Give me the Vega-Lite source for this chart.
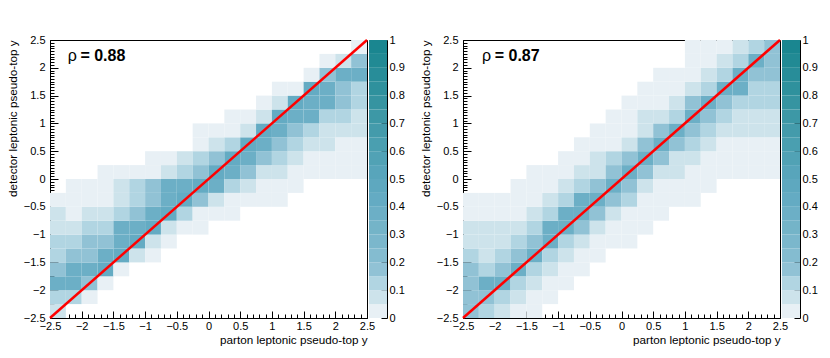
{
"$schema":"https://vega.github.io/schema/vega-lite/v6.json",
"padding":{"left":6,"top":33,"right":0,"bottom":0},
"background":"white",
"config":{"font":"Liberation Sans","view":{"stroke":"#000","strokeWidth":1},
"axis":{"grid":false,"domainColor":"#000","tickColor":"#000","labelColor":"#000","titleColor":"#000","labelFont":"Liberation Sans","titleFont":"Liberation Sans","labelFontSize":11,"titleFontSize":11.7,"titleFontWeight":"normal","labelFlush":false,"zindex":1,"domainWidth":1,"tickWidth":1}},
"datasets":{
"left":[
{"x":-2.5,"x2":-2.25,"y":-2.5,"y2":-2.25,"v":0.07},
{"x":-2.5,"x2":-2.25,"y":-2.25,"y2":-2,"v":0.12},{"x":-2.25,"x2":-2,"y":-2.25,"y2":-2,"v":0.12},{"x":-2,"x2":-1.75,"y":-2.25,"y2":-2,"v":0.03},
{"x":-2.5,"x2":-2.25,"y":-2,"y2":-1.75,"v":0.38},{"x":-2.25,"x2":-2,"y":-2,"y2":-1.75,"v":0.38},{"x":-2,"x2":-1.75,"y":-2,"y2":-1.75,"v":0.18},{"x":-1.75,"x2":-1.5,"y":-2,"y2":-1.75,"v":0.03},
{"x":-2.5,"x2":-2.25,"y":-1.75,"y2":-1.5,"v":0.18},{"x":-2.25,"x2":-2,"y":-1.75,"y2":-1.5,"v":0.38},{"x":-2,"x2":-1.75,"y":-1.75,"y2":-1.5,"v":0.38},{"x":-1.75,"x2":-1.5,"y":-1.75,"y2":-1.5,"v":0.43},{"x":-1.5,"x2":-1.25,"y":-1.75,"y2":-1.5,"v":0.03},
{"x":-2.5,"x2":-2.25,"y":-1.5,"y2":-1.25,"v":0.12},{"x":-2.25,"x2":-2,"y":-1.5,"y2":-1.25,"v":0.18},{"x":-2,"x2":-1.75,"y":-1.5,"y2":-1.25,"v":0.18},{"x":-1.75,"x2":-1.5,"y":-1.5,"y2":-1.25,"v":0.38},{"x":-1.5,"x2":-1.25,"y":-1.5,"y2":-1.25,"v":0.43},{"x":-1.25,"x2":-1,"y":-1.5,"y2":-1.25,"v":0.07},{"x":-1,"x2":-0.75,"y":-1.5,"y2":-1.25,"v":0.03},
{"x":-2.5,"x2":-2.25,"y":-1.25,"y2":-1,"v":0.12},{"x":-2.25,"x2":-2,"y":-1.25,"y2":-1,"v":0.12},{"x":-2,"x2":-1.75,"y":-1.25,"y2":-1,"v":0.18},{"x":-1.75,"x2":-1.5,"y":-1.25,"y2":-1,"v":0.18},{"x":-1.5,"x2":-1.25,"y":-1.25,"y2":-1,"v":0.38},{"x":-1.25,"x2":-1,"y":-1.25,"y2":-1,"v":0.43},{"x":-1,"x2":-0.75,"y":-1.25,"y2":-1,"v":0.07},{"x":-0.75,"x2":-0.5,"y":-1.25,"y2":-1,"v":0.03},
{"x":-2.5,"x2":-2.25,"y":-1,"y2":-0.75,"v":0.07},{"x":-2.25,"x2":-2,"y":-1,"y2":-0.75,"v":0.07},{"x":-2,"x2":-1.75,"y":-1,"y2":-0.75,"v":0.12},{"x":-1.75,"x2":-1.5,"y":-1,"y2":-0.75,"v":0.12},{"x":-1.5,"x2":-1.25,"y":-1,"y2":-0.75,"v":0.38},{"x":-1.25,"x2":-1,"y":-1,"y2":-0.75,"v":0.38},{"x":-1,"x2":-0.75,"y":-1,"y2":-0.75,"v":0.43},{"x":-0.75,"x2":-0.5,"y":-1,"y2":-0.75,"v":0.07},{"x":-0.5,"x2":-0.25,"y":-1,"y2":-0.75,"v":0.03},{"x":-0.25,"x2":0,"y":-1,"y2":-0.75,"v":0.03},
{"x":-2.5,"x2":-2.25,"y":-0.75,"y2":-0.5,"v":0.07},{"x":-2.25,"x2":-2,"y":-0.75,"y2":-0.5,"v":0.03},{"x":-2,"x2":-1.75,"y":-0.75,"y2":-0.5,"v":0.07},{"x":-1.75,"x2":-1.5,"y":-0.75,"y2":-0.5,"v":0.07},{"x":-1.5,"x2":-1.25,"y":-0.75,"y2":-0.5,"v":0.12},{"x":-1.25,"x2":-1,"y":-0.75,"y2":-0.5,"v":0.18},{"x":-1,"x2":-0.75,"y":-0.75,"y2":-0.5,"v":0.38},{"x":-0.75,"x2":-0.5,"y":-0.75,"y2":-0.5,"v":0.43},{"x":-0.5,"x2":-0.25,"y":-0.75,"y2":-0.5,"v":0.12},{"x":-0.25,"x2":0,"y":-0.75,"y2":-0.5,"v":0.03},{"x":0,"x2":0.25,"y":-0.75,"y2":-0.5,"v":0.03},{"x":0.25,"x2":0.5,"y":-0.75,"y2":-0.5,"v":0.03},
{"x":-2.5,"x2":-2.25,"y":-0.5,"y2":-0.25,"v":0.03},{"x":-2.25,"x2":-2,"y":-0.5,"y2":-0.25,"v":0.03},{"x":-2,"x2":-1.75,"y":-0.5,"y2":-0.25,"v":0.03},{"x":-1.75,"x2":-1.5,"y":-0.5,"y2":-0.25,"v":0.03},{"x":-1.5,"x2":-1.25,"y":-0.5,"y2":-0.25,"v":0.07},{"x":-1.25,"x2":-1,"y":-0.5,"y2":-0.25,"v":0.12},{"x":-1,"x2":-0.75,"y":-0.5,"y2":-0.25,"v":0.18},{"x":-0.75,"x2":-0.5,"y":-0.5,"y2":-0.25,"v":0.38},{"x":-0.5,"x2":-0.25,"y":-0.5,"y2":-0.25,"v":0.43},{"x":-0.25,"x2":0,"y":-0.5,"y2":-0.25,"v":0.18},{"x":0,"x2":0.25,"y":-0.5,"y2":-0.25,"v":0.07},{"x":0.25,"x2":0.5,"y":-0.5,"y2":-0.25,"v":0.03},{"x":0.5,"x2":0.75,"y":-0.5,"y2":-0.25,"v":0.03},{"x":0.75,"x2":1,"y":-0.5,"y2":-0.25,"v":0.03},{"x":1,"x2":1.25,"y":-0.5,"y2":-0.25,"v":0.03},
{"x":-2.25,"x2":-2,"y":-0.25,"y2":0,"v":0.03},{"x":-2,"x2":-1.75,"y":-0.25,"y2":0,"v":0.03},{"x":-1.75,"x2":-1.5,"y":-0.25,"y2":0,"v":0.03},{"x":-1.5,"x2":-1.25,"y":-0.25,"y2":0,"v":0.07},{"x":-1.25,"x2":-1,"y":-0.25,"y2":0,"v":0.12},{"x":-1,"x2":-0.75,"y":-0.25,"y2":0,"v":0.18},{"x":-0.75,"x2":-0.5,"y":-0.25,"y2":0,"v":0.38},{"x":-0.5,"x2":-0.25,"y":-0.25,"y2":0,"v":0.38},{"x":-0.25,"x2":0,"y":-0.25,"y2":0,"v":0.43},{"x":0,"x2":0.25,"y":-0.25,"y2":0,"v":0.38},{"x":0.25,"x2":0.5,"y":-0.25,"y2":0,"v":0.12},{"x":0.5,"x2":0.75,"y":-0.25,"y2":0,"v":0.07},{"x":0.75,"x2":1,"y":-0.25,"y2":0,"v":0.03},{"x":1,"x2":1.25,"y":-0.25,"y2":0,"v":0.03},{"x":1.25,"x2":1.5,"y":-0.25,"y2":0,"v":0.03},
{"x":-1.75,"x2":-1.5,"y":0,"y2":0.25,"v":0.03},{"x":-1.5,"x2":-1.25,"y":0,"y2":0.25,"v":0.03},{"x":-1.25,"x2":-1,"y":0,"y2":0.25,"v":0.03},{"x":-1,"x2":-0.75,"y":0,"y2":0.25,"v":0.03},{"x":-0.75,"x2":-0.5,"y":0,"y2":0.25,"v":0.07},{"x":-0.5,"x2":-0.25,"y":0,"y2":0.25,"v":0.12},{"x":-0.25,"x2":0,"y":0,"y2":0.25,"v":0.18},{"x":0,"x2":0.25,"y":0,"y2":0.25,"v":0.43},{"x":0.25,"x2":0.5,"y":0,"y2":0.25,"v":0.38},{"x":0.5,"x2":0.75,"y":0,"y2":0.25,"v":0.18},{"x":0.75,"x2":1,"y":0,"y2":0.25,"v":0.07},{"x":1,"x2":1.25,"y":0,"y2":0.25,"v":0.07},{"x":1.25,"x2":1.5,"y":0,"y2":0.25,"v":0.03},{"x":1.5,"x2":1.75,"y":0,"y2":0.25,"v":0.03},{"x":1.75,"x2":2,"y":0,"y2":0.25,"v":0.03},{"x":2,"x2":2.25,"y":0,"y2":0.25,"v":0.03},{"x":2.25,"x2":2.5,"y":0,"y2":0.25,"v":0.03},
{"x":-1,"x2":-0.75,"y":0.25,"y2":0.5,"v":0.03},{"x":-0.75,"x2":-0.5,"y":0.25,"y2":0.5,"v":0.03},{"x":-0.5,"x2":-0.25,"y":0.25,"y2":0.5,"v":0.07},{"x":-0.25,"x2":0,"y":0.25,"y2":0.5,"v":0.12},{"x":0,"x2":0.25,"y":0.25,"y2":0.5,"v":0.18},{"x":0.25,"x2":0.5,"y":0.25,"y2":0.5,"v":0.43},{"x":0.5,"x2":0.75,"y":0.25,"y2":0.5,"v":0.38},{"x":0.75,"x2":1,"y":0.25,"y2":0.5,"v":0.18},{"x":1,"x2":1.25,"y":0.25,"y2":0.5,"v":0.12},{"x":1.25,"x2":1.5,"y":0.25,"y2":0.5,"v":0.07},{"x":1.5,"x2":1.75,"y":0.25,"y2":0.5,"v":0.03},{"x":1.75,"x2":2,"y":0.25,"y2":0.5,"v":0.03},{"x":2,"x2":2.25,"y":0.25,"y2":0.5,"v":0.03},{"x":2.25,"x2":2.5,"y":0.25,"y2":0.5,"v":0.03},
{"x":-0.25,"x2":0,"y":0.5,"y2":0.75,"v":0.03},{"x":0,"x2":0.25,"y":0.5,"y2":0.75,"v":0.07},{"x":0.25,"x2":0.5,"y":0.5,"y2":0.75,"v":0.12},{"x":0.5,"x2":0.75,"y":0.5,"y2":0.75,"v":0.43},{"x":0.75,"x2":1,"y":0.5,"y2":0.75,"v":0.38},{"x":1,"x2":1.25,"y":0.5,"y2":0.75,"v":0.18},{"x":1.25,"x2":1.5,"y":0.5,"y2":0.75,"v":0.12},{"x":1.5,"x2":1.75,"y":0.5,"y2":0.75,"v":0.07},{"x":1.75,"x2":2,"y":0.5,"y2":0.75,"v":0.07},{"x":2,"x2":2.25,"y":0.5,"y2":0.75,"v":0.03},{"x":2.25,"x2":2.5,"y":0.5,"y2":0.75,"v":0.03},
{"x":-0.25,"x2":0,"y":0.75,"y2":1,"v":0.03},{"x":0,"x2":0.25,"y":0.75,"y2":1,"v":0.03},{"x":0.25,"x2":0.5,"y":0.75,"y2":1,"v":0.03},{"x":0.5,"x2":0.75,"y":0.75,"y2":1,"v":0.07},{"x":0.75,"x2":1,"y":0.75,"y2":1,"v":0.43},{"x":1,"x2":1.25,"y":0.75,"y2":1,"v":0.38},{"x":1.25,"x2":1.5,"y":0.75,"y2":1,"v":0.18},{"x":1.5,"x2":1.75,"y":0.75,"y2":1,"v":0.12},{"x":1.75,"x2":2,"y":0.75,"y2":1,"v":0.07},{"x":2,"x2":2.25,"y":0.75,"y2":1,"v":0.07},{"x":2.25,"x2":2.5,"y":0.75,"y2":1,"v":0.07},
{"x":0.25,"x2":0.5,"y":1,"y2":1.25,"v":0.03},{"x":0.5,"x2":0.75,"y":1,"y2":1.25,"v":0.03},{"x":0.75,"x2":1,"y":1,"y2":1.25,"v":0.07},{"x":1,"x2":1.25,"y":1,"y2":1.25,"v":0.43},{"x":1.25,"x2":1.5,"y":1,"y2":1.25,"v":0.38},{"x":1.5,"x2":1.75,"y":1,"y2":1.25,"v":0.38},{"x":1.75,"x2":2,"y":1,"y2":1.25,"v":0.12},{"x":2,"x2":2.25,"y":1,"y2":1.25,"v":0.12},{"x":2.25,"x2":2.5,"y":1,"y2":1.25,"v":0.07},
{"x":0.75,"x2":1,"y":1.25,"y2":1.5,"v":0.03},{"x":1,"x2":1.25,"y":1.25,"y2":1.5,"v":0.07},{"x":1.25,"x2":1.5,"y":1.25,"y2":1.5,"v":0.43},{"x":1.5,"x2":1.75,"y":1.25,"y2":1.5,"v":0.38},{"x":1.75,"x2":2,"y":1.25,"y2":1.5,"v":0.38},{"x":2,"x2":2.25,"y":1.25,"y2":1.5,"v":0.18},{"x":2.25,"x2":2.5,"y":1.25,"y2":1.5,"v":0.12},
{"x":1,"x2":1.25,"y":1.5,"y2":1.75,"v":0.03},{"x":1.25,"x2":1.5,"y":1.5,"y2":1.75,"v":0.03},{"x":1.5,"x2":1.75,"y":1.5,"y2":1.75,"v":0.43},{"x":1.75,"x2":2,"y":1.5,"y2":1.75,"v":0.38},{"x":2,"x2":2.25,"y":1.5,"y2":1.75,"v":0.18},{"x":2.25,"x2":2.5,"y":1.5,"y2":1.75,"v":0.12},
{"x":1.5,"x2":1.75,"y":1.75,"y2":2,"v":0.03},{"x":1.75,"x2":2,"y":1.75,"y2":2,"v":0.18},{"x":2,"x2":2.25,"y":1.75,"y2":2,"v":0.38},{"x":2.25,"x2":2.5,"y":1.75,"y2":2,"v":0.38},
{"x":1.75,"x2":2,"y":2,"y2":2.25,"v":0.03},{"x":2,"x2":2.25,"y":2,"y2":2.25,"v":0.07},{"x":2.25,"x2":2.5,"y":2,"y2":2.25,"v":0.18},
{"x":2.25,"x2":2.5,"y":2.25,"y2":2.5,"v":0.03}
],
"right":[
{"x":-2.5,"x2":-2.25,"y":-2.5,"y2":-2.25,"v":0.18},{"x":-2.25,"x2":-2,"y":-2.5,"y2":-2.25,"v":0.12},{"x":-2,"x2":-1.75,"y":-2.5,"y2":-2.25,"v":0.07},{"x":-1.75,"x2":-1.5,"y":-2.5,"y2":-2.25,"v":0.03},{"x":-1.5,"x2":-1.25,"y":-2.5,"y2":-2.25,"v":0.03},
{"x":-2.5,"x2":-2.25,"y":-2.25,"y2":-2,"v":0.18},{"x":-2.25,"x2":-2,"y":-2.25,"y2":-2,"v":0.18},{"x":-2,"x2":-1.75,"y":-2.25,"y2":-2,"v":0.12},{"x":-1.75,"x2":-1.5,"y":-2.25,"y2":-2,"v":0.07},{"x":-1.5,"x2":-1.25,"y":-2.25,"y2":-2,"v":0.03},{"x":-1.25,"x2":-1,"y":-2.25,"y2":-2,"v":0.03},
{"x":-2.5,"x2":-2.25,"y":-2,"y2":-1.75,"v":0.18},{"x":-2.25,"x2":-2,"y":-2,"y2":-1.75,"v":0.36},{"x":-2,"x2":-1.75,"y":-2,"y2":-1.75,"v":0.36},{"x":-1.75,"x2":-1.5,"y":-2,"y2":-1.75,"v":0.12},{"x":-1.5,"x2":-1.25,"y":-2,"y2":-1.75,"v":0.07},{"x":-1.25,"x2":-1,"y":-2,"y2":-1.75,"v":0.03},{"x":-1,"x2":-0.75,"y":-2,"y2":-1.75,"v":0.03},
{"x":-2.5,"x2":-2.25,"y":-1.75,"y2":-1.5,"v":0.18},{"x":-2.25,"x2":-2,"y":-1.75,"y2":-1.5,"v":0.12},{"x":-2,"x2":-1.75,"y":-1.75,"y2":-1.5,"v":0.18},{"x":-1.75,"x2":-1.5,"y":-1.75,"y2":-1.5,"v":0.36},{"x":-1.5,"x2":-1.25,"y":-1.75,"y2":-1.5,"v":0.12},{"x":-1.25,"x2":-1,"y":-1.75,"y2":-1.5,"v":0.07},{"x":-1,"x2":-0.75,"y":-1.75,"y2":-1.5,"v":0.03},{"x":-0.75,"x2":-0.5,"y":-1.75,"y2":-1.5,"v":0.03},
{"x":-2.5,"x2":-2.25,"y":-1.5,"y2":-1.25,"v":0.12},{"x":-2.25,"x2":-2,"y":-1.5,"y2":-1.25,"v":0.07},{"x":-2,"x2":-1.75,"y":-1.5,"y2":-1.25,"v":0.12},{"x":-1.75,"x2":-1.5,"y":-1.5,"y2":-1.25,"v":0.18},{"x":-1.5,"x2":-1.25,"y":-1.5,"y2":-1.25,"v":0.36},{"x":-1.25,"x2":-1,"y":-1.5,"y2":-1.25,"v":0.12},{"x":-1,"x2":-0.75,"y":-1.5,"y2":-1.25,"v":0.07},{"x":-0.75,"x2":-0.5,"y":-1.5,"y2":-1.25,"v":0.03},{"x":-0.5,"x2":-0.25,"y":-1.5,"y2":-1.25,"v":0.03},
{"x":-2.5,"x2":-2.25,"y":-1.25,"y2":-1,"v":0.07},{"x":-2.25,"x2":-2,"y":-1.25,"y2":-1,"v":0.07},{"x":-2,"x2":-1.75,"y":-1.25,"y2":-1,"v":0.07},{"x":-1.75,"x2":-1.5,"y":-1.25,"y2":-1,"v":0.12},{"x":-1.5,"x2":-1.25,"y":-1.25,"y2":-1,"v":0.18},{"x":-1.25,"x2":-1,"y":-1.25,"y2":-1,"v":0.36},{"x":-1,"x2":-0.75,"y":-1.25,"y2":-1,"v":0.12},{"x":-0.75,"x2":-0.5,"y":-1.25,"y2":-1,"v":0.07},{"x":-0.5,"x2":-0.25,"y":-1.25,"y2":-1,"v":0.03},{"x":-0.25,"x2":0,"y":-1.25,"y2":-1,"v":0.03},{"x":0,"x2":0.25,"y":-1.25,"y2":-1,"v":0.03},
{"x":-2.5,"x2":-2.25,"y":-1,"y2":-0.75,"v":0.07},{"x":-2.25,"x2":-2,"y":-1,"y2":-0.75,"v":0.07},{"x":-2,"x2":-1.75,"y":-1,"y2":-0.75,"v":0.07},{"x":-1.75,"x2":-1.5,"y":-1,"y2":-0.75,"v":0.07},{"x":-1.5,"x2":-1.25,"y":-1,"y2":-0.75,"v":0.12},{"x":-1.25,"x2":-1,"y":-1,"y2":-0.75,"v":0.36},{"x":-1,"x2":-0.75,"y":-1,"y2":-0.75,"v":0.36},{"x":-0.75,"x2":-0.5,"y":-1,"y2":-0.75,"v":0.18},{"x":-0.5,"x2":-0.25,"y":-1,"y2":-0.75,"v":0.07},{"x":-0.25,"x2":0,"y":-1,"y2":-0.75,"v":0.03},{"x":0,"x2":0.25,"y":-1,"y2":-0.75,"v":0.03},{"x":0.25,"x2":0.5,"y":-1,"y2":-0.75,"v":0.03},
{"x":-2.5,"x2":-2.25,"y":-0.75,"y2":-0.5,"v":0.03},{"x":-2.25,"x2":-2,"y":-0.75,"y2":-0.5,"v":0.03},{"x":-2,"x2":-1.75,"y":-0.75,"y2":-0.5,"v":0.03},{"x":-1.75,"x2":-1.5,"y":-0.75,"y2":-0.5,"v":0.03},{"x":-1.5,"x2":-1.25,"y":-0.75,"y2":-0.5,"v":0.07},{"x":-1.25,"x2":-1,"y":-0.75,"y2":-0.5,"v":0.12},{"x":-1,"x2":-0.75,"y":-0.75,"y2":-0.5,"v":0.36},{"x":-0.75,"x2":-0.5,"y":-0.75,"y2":-0.5,"v":0.36},{"x":-0.5,"x2":-0.25,"y":-0.75,"y2":-0.5,"v":0.18},{"x":-0.25,"x2":0,"y":-0.75,"y2":-0.5,"v":0.07},{"x":0,"x2":0.25,"y":-0.75,"y2":-0.5,"v":0.03},{"x":0.25,"x2":0.5,"y":-0.75,"y2":-0.5,"v":0.03},{"x":0.5,"x2":0.75,"y":-0.75,"y2":-0.5,"v":0.03},
{"x":-2.5,"x2":-2.25,"y":-0.5,"y2":-0.25,"v":0.03},{"x":-2.25,"x2":-2,"y":-0.5,"y2":-0.25,"v":0.03},{"x":-2,"x2":-1.75,"y":-0.5,"y2":-0.25,"v":0.03},{"x":-1.75,"x2":-1.5,"y":-0.5,"y2":-0.25,"v":0.03},{"x":-1.5,"x2":-1.25,"y":-0.5,"y2":-0.25,"v":0.03},{"x":-1.25,"x2":-1,"y":-0.5,"y2":-0.25,"v":0.07},{"x":-1,"x2":-0.75,"y":-0.5,"y2":-0.25,"v":0.12},{"x":-0.75,"x2":-0.5,"y":-0.5,"y2":-0.25,"v":0.36},{"x":-0.5,"x2":-0.25,"y":-0.5,"y2":-0.25,"v":0.36},{"x":-0.25,"x2":0,"y":-0.5,"y2":-0.25,"v":0.18},{"x":0,"x2":0.25,"y":-0.5,"y2":-0.25,"v":0.12},{"x":0.25,"x2":0.5,"y":-0.5,"y2":-0.25,"v":0.03},{"x":0.5,"x2":0.75,"y":-0.5,"y2":-0.25,"v":0.03},{"x":0.75,"x2":1,"y":-0.5,"y2":-0.25,"v":0.03},{"x":1,"x2":1.25,"y":-0.5,"y2":-0.25,"v":0.03},
{"x":-1.75,"x2":-1.5,"y":-0.25,"y2":0,"v":0.03},{"x":-1.5,"x2":-1.25,"y":-0.25,"y2":0,"v":0.03},{"x":-1.25,"x2":-1,"y":-0.25,"y2":0,"v":0.03},{"x":-1,"x2":-0.75,"y":-0.25,"y2":0,"v":0.07},{"x":-0.75,"x2":-0.5,"y":-0.25,"y2":0,"v":0.12},{"x":-0.5,"x2":-0.25,"y":-0.25,"y2":0,"v":0.18},{"x":-0.25,"x2":0,"y":-0.25,"y2":0,"v":0.36},{"x":0,"x2":0.25,"y":-0.25,"y2":0,"v":0.18},{"x":0.25,"x2":0.5,"y":-0.25,"y2":0,"v":0.07},{"x":0.5,"x2":0.75,"y":-0.25,"y2":0,"v":0.03},{"x":0.75,"x2":1,"y":-0.25,"y2":0,"v":0.03},{"x":1,"x2":1.25,"y":-0.25,"y2":0,"v":0.03},{"x":1.25,"x2":1.5,"y":-0.25,"y2":0,"v":0.03},
{"x":-1.5,"x2":-1.25,"y":0,"y2":0.25,"v":0.03},{"x":-1.25,"x2":-1,"y":0,"y2":0.25,"v":0.03},{"x":-1,"x2":-0.75,"y":0,"y2":0.25,"v":0.03},{"x":-0.75,"x2":-0.5,"y":0,"y2":0.25,"v":0.07},{"x":-0.5,"x2":-0.25,"y":0,"y2":0.25,"v":0.07},{"x":-0.25,"x2":0,"y":0,"y2":0.25,"v":0.18},{"x":0,"x2":0.25,"y":0,"y2":0.25,"v":0.36},{"x":0.25,"x2":0.5,"y":0,"y2":0.25,"v":0.18},{"x":0.5,"x2":0.75,"y":0,"y2":0.25,"v":0.07},{"x":0.75,"x2":1,"y":0,"y2":0.25,"v":0.07},{"x":1,"x2":1.25,"y":0,"y2":0.25,"v":0.03},{"x":1.25,"x2":1.5,"y":0,"y2":0.25,"v":0.03},{"x":1.5,"x2":1.75,"y":0,"y2":0.25,"v":0.03},{"x":1.75,"x2":2,"y":0,"y2":0.25,"v":0.03},{"x":2,"x2":2.25,"y":0,"y2":0.25,"v":0.03},{"x":2.25,"x2":2.5,"y":0,"y2":0.25,"v":0.03},
{"x":-1,"x2":-0.75,"y":0.25,"y2":0.5,"v":0.03},{"x":-0.75,"x2":-0.5,"y":0.25,"y2":0.5,"v":0.03},{"x":-0.5,"x2":-0.25,"y":0.25,"y2":0.5,"v":0.07},{"x":-0.25,"x2":0,"y":0.25,"y2":0.5,"v":0.12},{"x":0,"x2":0.25,"y":0.25,"y2":0.5,"v":0.18},{"x":0.25,"x2":0.5,"y":0.25,"y2":0.5,"v":0.36},{"x":0.5,"x2":0.75,"y":0.25,"y2":0.5,"v":0.18},{"x":0.75,"x2":1,"y":0.25,"y2":0.5,"v":0.07},{"x":1,"x2":1.25,"y":0.25,"y2":0.5,"v":0.07},{"x":1.25,"x2":1.5,"y":0.25,"y2":0.5,"v":0.03},{"x":1.5,"x2":1.75,"y":0.25,"y2":0.5,"v":0.03},{"x":1.75,"x2":2,"y":0.25,"y2":0.5,"v":0.03},{"x":2,"x2":2.25,"y":0.25,"y2":0.5,"v":0.03},{"x":2.25,"x2":2.5,"y":0.25,"y2":0.5,"v":0.03},
{"x":-0.75,"x2":-0.5,"y":0.5,"y2":0.75,"v":0.03},{"x":-0.5,"x2":-0.25,"y":0.5,"y2":0.75,"v":0.03},{"x":-0.25,"x2":0,"y":0.5,"y2":0.75,"v":0.03},{"x":0,"x2":0.25,"y":0.5,"y2":0.75,"v":0.07},{"x":0.25,"x2":0.5,"y":0.5,"y2":0.75,"v":0.18},{"x":0.5,"x2":0.75,"y":0.5,"y2":0.75,"v":0.36},{"x":0.75,"x2":1,"y":0.5,"y2":0.75,"v":0.18},{"x":1,"x2":1.25,"y":0.5,"y2":0.75,"v":0.12},{"x":1.25,"x2":1.5,"y":0.5,"y2":0.75,"v":0.07},{"x":1.5,"x2":1.75,"y":0.5,"y2":0.75,"v":0.03},{"x":1.75,"x2":2,"y":0.5,"y2":0.75,"v":0.03},{"x":2,"x2":2.25,"y":0.5,"y2":0.75,"v":0.03},{"x":2.25,"x2":2.5,"y":0.5,"y2":0.75,"v":0.03},
{"x":-0.5,"x2":-0.25,"y":0.75,"y2":1,"v":0.03},{"x":-0.25,"x2":0,"y":0.75,"y2":1,"v":0.03},{"x":0,"x2":0.25,"y":0.75,"y2":1,"v":0.03},{"x":0.25,"x2":0.5,"y":0.75,"y2":1,"v":0.07},{"x":0.5,"x2":0.75,"y":0.75,"y2":1,"v":0.18},{"x":0.75,"x2":1,"y":0.75,"y2":1,"v":0.36},{"x":1,"x2":1.25,"y":0.75,"y2":1,"v":0.18},{"x":1.25,"x2":1.5,"y":0.75,"y2":1,"v":0.12},{"x":1.5,"x2":1.75,"y":0.75,"y2":1,"v":0.07},{"x":1.75,"x2":2,"y":0.75,"y2":1,"v":0.07},{"x":2,"x2":2.25,"y":0.75,"y2":1,"v":0.07},{"x":2.25,"x2":2.5,"y":0.75,"y2":1,"v":0.07},
{"x":-0.25,"x2":0,"y":1,"y2":1.25,"v":0.03},{"x":0,"x2":0.25,"y":1,"y2":1.25,"v":0.03},{"x":0.25,"x2":0.5,"y":1,"y2":1.25,"v":0.07},{"x":0.5,"x2":0.75,"y":1,"y2":1.25,"v":0.07},{"x":0.75,"x2":1,"y":1,"y2":1.25,"v":0.12},{"x":1,"x2":1.25,"y":1,"y2":1.25,"v":0.36},{"x":1.25,"x2":1.5,"y":1,"y2":1.25,"v":0.18},{"x":1.5,"x2":1.75,"y":1,"y2":1.25,"v":0.12},{"x":1.75,"x2":2,"y":1,"y2":1.25,"v":0.07},{"x":2,"x2":2.25,"y":1,"y2":1.25,"v":0.07},{"x":2.25,"x2":2.5,"y":1,"y2":1.25,"v":0.07},
{"x":0,"x2":0.25,"y":1.25,"y2":1.5,"v":0.03},{"x":0.25,"x2":0.5,"y":1.25,"y2":1.5,"v":0.03},{"x":0.5,"x2":0.75,"y":1.25,"y2":1.5,"v":0.03},{"x":0.75,"x2":1,"y":1.25,"y2":1.5,"v":0.07},{"x":1,"x2":1.25,"y":1.25,"y2":1.5,"v":0.18},{"x":1.25,"x2":1.5,"y":1.25,"y2":1.5,"v":0.36},{"x":1.5,"x2":1.75,"y":1.25,"y2":1.5,"v":0.18},{"x":1.75,"x2":2,"y":1.25,"y2":1.5,"v":0.12},{"x":2,"x2":2.25,"y":1.25,"y2":1.5,"v":0.12},{"x":2.25,"x2":2.5,"y":1.25,"y2":1.5,"v":0.12},
{"x":0.25,"x2":0.5,"y":1.5,"y2":1.75,"v":0.03},{"x":0.5,"x2":0.75,"y":1.5,"y2":1.75,"v":0.03},{"x":0.75,"x2":1,"y":1.5,"y2":1.75,"v":0.03},{"x":1,"x2":1.25,"y":1.5,"y2":1.75,"v":0.07},{"x":1.25,"x2":1.5,"y":1.5,"y2":1.75,"v":0.12},{"x":1.5,"x2":1.75,"y":1.5,"y2":1.75,"v":0.36},{"x":1.75,"x2":2,"y":1.5,"y2":1.75,"v":0.36},{"x":2,"x2":2.25,"y":1.5,"y2":1.75,"v":0.12},{"x":2.25,"x2":2.5,"y":1.5,"y2":1.75,"v":0.12},
{"x":0.5,"x2":0.75,"y":1.75,"y2":2,"v":0.03},{"x":0.75,"x2":1,"y":1.75,"y2":2,"v":0.03},{"x":1,"x2":1.25,"y":1.75,"y2":2,"v":0.03},{"x":1.25,"x2":1.5,"y":1.75,"y2":2,"v":0.07},{"x":1.5,"x2":1.75,"y":1.75,"y2":2,"v":0.12},{"x":1.75,"x2":2,"y":1.75,"y2":2,"v":0.36},{"x":2,"x2":2.25,"y":1.75,"y2":2,"v":0.18},{"x":2.25,"x2":2.5,"y":1.75,"y2":2,"v":0.18},
{"x":1,"x2":1.25,"y":2,"y2":2.25,"v":0.03},{"x":1.25,"x2":1.5,"y":2,"y2":2.25,"v":0.03},{"x":1.5,"x2":1.75,"y":2,"y2":2.25,"v":0.07},{"x":1.75,"x2":2,"y":2,"y2":2.25,"v":0.12},{"x":2,"x2":2.25,"y":2,"y2":2.25,"v":0.36},{"x":2.25,"x2":2.5,"y":2,"y2":2.25,"v":0.18},
{"x":1,"x2":1.25,"y":2.25,"y2":2.5,"v":0.03},{"x":1.25,"x2":1.5,"y":2.25,"y2":2.5,"v":0.03},{"x":1.5,"x2":1.75,"y":2.25,"y2":2.5,"v":0.03},{"x":1.75,"x2":2,"y":2.25,"y2":2.5,"v":0.07},{"x":2,"x2":2.25,"y":2.25,"y2":2.5,"v":0.12},{"x":2.25,"x2":2.5,"y":2.25,"y2":2.5,"v":0.18}
],
"diag":[{"x":-2.5,"y":-2.5},{"x":2.5,"y":2.5}],
"rhoL":[{"x":-2.22,"y":2.13,"t":"ρ"}],
"valL":[{"x":-2.02,"y":2.13,"t":"= 0.88"}],
"rhoR":[{"x":-2.2,"y":2.13,"t":"ρ"}],
"valR":[{"x":-2.0,"y":2.13,"t":"= 0.87"}],
"bar":[{"lo":0,"hi":0.05,"v":0.025},{"lo":0.05,"hi":0.1,"v":0.075},{"lo":0.1,"hi":0.15,"v":0.125},{"lo":0.15,"hi":0.2,"v":0.175},{"lo":0.2,"hi":0.25,"v":0.225},{"lo":0.25,"hi":0.3,"v":0.275},{"lo":0.3,"hi":0.35,"v":0.325},{"lo":0.35,"hi":0.4,"v":0.375},{"lo":0.4,"hi":0.45,"v":0.425},{"lo":0.45,"hi":0.5,"v":0.475},{"lo":0.5,"hi":0.55,"v":0.525},{"lo":0.55,"hi":0.6,"v":0.575},{"lo":0.6,"hi":0.65,"v":0.625},{"lo":0.65,"hi":0.7,"v":0.675},{"lo":0.7,"hi":0.75,"v":0.725},{"lo":0.75,"hi":0.8,"v":0.775},{"lo":0.8,"hi":0.85,"v":0.825},{"lo":0.85,"hi":0.9,"v":0.875},{"lo":0.9,"hi":0.95,"v":0.925},{"lo":0.95,"hi":1,"v":0.975}]
},
"spacing":14,
"hconcat":[
{"spacing":2,"bounds":"flush","hconcat":[
{"width":317,"height":278,
"layer":[
{"data":{"name":"left"},"mark":{"type":"rect"},
"encoding":{
"x":{"field":"x","type":"quantitative","scale":{"domain":[-2.5,2.5],"nice":false,"zero":false},"axis":{"orient":"bottom","values":[-2.5,-2,-1.5,-1,-0.5,0,0.5,1,1.5,2,2.5],"format":"~g","tickSize":-7,"labelPadding":9,"title":"parton leptonic pseudo-top y","titleAnchor":"end","titlePadding":3}},
"x2":{"field":"x2"},
"y":{"field":"y","type":"quantitative","scale":{"domain":[-2.5,2.5],"nice":false,"zero":false},"axis":{"orient":"left","values":[-2.5,-2,-1.5,-1,-0.5,0,0.5,1,1.5,2,2.5],"format":"~g","tickSize":-8,"labelPadding":13,"title":"detector leptonic pseudo-top y","titleAnchor":"end","titlePadding":5}},
"y2":{"field":"y2"},
"color":{"field":"v","type":"quantitative","legend":null,"scale":{"type":"threshold","domain":[0.05,0.1,0.15,0.2,0.25,0.3,0.35,0.4,0.45,0.5,0.55,0.6,0.65,0.7,0.75,0.8,0.85,0.9,0.95],"range":["#e8f0f5","#cde3eb","#b1d5e2","#91c2d5","#84bcd0","#7bb7cc","#74b4c8","#6cafc6","#64abc3","#5ea8bf","#58a5bb","#51a2b5","#4a9fb0","#449bab","#3d98a6","#3694a1","#2f919d","#288d99","#218a94","#1a8690"]}}
}},
{"data":{"name":"diag"},"mark":{"type":"line","color":"#ff0000","strokeWidth":2.5},
"encoding":{
"x":{"field":"x","type":"quantitative","axis":{"orient":"bottom","values":[-2.4,-2.3,-2.2,-2.1,-1.9,-1.8,-1.7,-1.6,-1.4,-1.3,-1.2,-1.1,-0.9,-0.8,-0.7,-0.6,-0.4,-0.3,-0.2,-0.1,0.1,0.2,0.3,0.4,0.6,0.7,0.8,0.9,1.1,1.2,1.3,1.4,1.6,1.7,1.8,1.9,2.1,2.2,2.3,2.4],"labels":false,"domain":false,"tickSize":-4,"title":null}},
"y":{"field":"y","type":"quantitative","axis":{"orient":"left","values":[-2.45,-2.4,-2.35,-2.3,-2.25,-2.2,-2.15,-2.1,-2.05,-1.95,-1.9,-1.85,-1.8,-1.75,-1.7,-1.65,-1.6,-1.55,-1.45,-1.4,-1.35,-1.3,-1.25,-1.2,-1.15,-1.1,-1.05,-0.95,-0.9,-0.85,-0.8,-0.75,-0.7,-0.65,-0.6,-0.55,-0.45,-0.4,-0.35,-0.3,-0.25,-0.2,-0.15,-0.1,-0.05,0.05,0.1,0.15,0.2,0.25,0.3,0.35,0.4,0.45,0.55,0.6,0.65,0.7,0.75,0.8,0.85,0.9,0.95,1.05,1.1,1.15,1.2,1.25,1.3,1.35,1.4,1.45,1.55,1.6,1.65,1.7,1.75,1.8,1.85,1.9,1.95,2.05,2.1,2.15,2.2,2.25,2.3,2.35,2.4,2.45],"labels":false,"domain":false,"tickSize":-4,"title":null}}
}},
{"data":{"name":"rhoL"},"mark":{"type":"text","align":"left","baseline":"alphabetic","fontSize":16,"font":"Liberation Sans","color":"#000"},
"encoding":{"x":{"field":"x","type":"quantitative","axis":null},"y":{"field":"y","type":"quantitative","axis":null},"text":{"field":"t"}}},
{"data":{"name":"valL"},"mark":{"type":"text","align":"left","baseline":"alphabetic","fontSize":16,"fontWeight":"bold","font":"Liberation Sans","color":"#000"},
"encoding":{"x":{"field":"x","type":"quantitative","axis":null},"y":{"field":"y","type":"quantitative","axis":null},"text":{"field":"t"}}}
],
"resolve":{"axis":{"x":"independent","y":"independent"}}
},
{"width":18,"height":278,"view":{"stroke":null},"data":{"name":"bar"},"mark":{"type":"rect"},
"encoding":{
"y":{"field":"lo","type":"quantitative","scale":{"domain":[0,1],"nice":false,"zero":false},"axis":{"orient":"right","values":[0,0.1,0.2,0.3,0.4,0.5,0.6,0.7,0.8,0.9,1],"format":"~g","tickSize":-6,"labelPadding":8,"title":null}},
"y2":{"field":"hi"},
"color":{"field":"v","type":"quantitative","legend":null,"scale":{"type":"threshold","domain":[0.05,0.1,0.15,0.2,0.25,0.3,0.35,0.4,0.45,0.5,0.55,0.6,0.65,0.7,0.75,0.8,0.85,0.9,0.95],"range":["#e8f0f5","#cde3eb","#b1d5e2","#91c2d5","#84bcd0","#7bb7cc","#74b4c8","#6cafc6","#64abc3","#5ea8bf","#58a5bb","#51a2b5","#4a9fb0","#449bab","#3d98a6","#3694a1","#2f919d","#288d99","#218a94","#1a8690"]}}
}}
]},
{"spacing":2,"bounds":"flush","hconcat":[
{"width":317,"height":278,
"layer":[
{"data":{"name":"right"},"mark":{"type":"rect"},
"encoding":{
"x":{"field":"x","type":"quantitative","scale":{"domain":[-2.5,2.5],"nice":false,"zero":false},"axis":{"orient":"bottom","values":[-2.5,-2,-1.5,-1,-0.5,0,0.5,1,1.5,2,2.5],"format":"~g","tickSize":-7,"labelPadding":9,"title":"parton leptonic pseudo-top y","titleAnchor":"end","titlePadding":3}},
"x2":{"field":"x2"},
"y":{"field":"y","type":"quantitative","scale":{"domain":[-2.5,2.5],"nice":false,"zero":false},"axis":{"orient":"left","values":[-2.5,-2,-1.5,-1,-0.5,0,0.5,1,1.5,2,2.5],"format":"~g","tickSize":-8,"labelPadding":13,"title":"detector leptonic pseudo-top y","titleAnchor":"end","titlePadding":5}},
"y2":{"field":"y2"},
"color":{"field":"v","type":"quantitative","legend":null,"scale":{"type":"threshold","domain":[0.05,0.1,0.15,0.2,0.25,0.3,0.35,0.4,0.45,0.5,0.55,0.6,0.65,0.7,0.75,0.8,0.85,0.9,0.95],"range":["#e8f0f5","#cde3eb","#b1d5e2","#91c2d5","#84bcd0","#7bb7cc","#74b4c8","#6cafc6","#64abc3","#5ea8bf","#58a5bb","#51a2b5","#4a9fb0","#449bab","#3d98a6","#3694a1","#2f919d","#288d99","#218a94","#1a8690"]}}
}},
{"data":{"name":"diag"},"mark":{"type":"line","color":"#ff0000","strokeWidth":2.5},
"encoding":{
"x":{"field":"x","type":"quantitative","axis":{"orient":"bottom","values":[-2.4,-2.3,-2.2,-2.1,-1.9,-1.8,-1.7,-1.6,-1.4,-1.3,-1.2,-1.1,-0.9,-0.8,-0.7,-0.6,-0.4,-0.3,-0.2,-0.1,0.1,0.2,0.3,0.4,0.6,0.7,0.8,0.9,1.1,1.2,1.3,1.4,1.6,1.7,1.8,1.9,2.1,2.2,2.3,2.4],"labels":false,"domain":false,"tickSize":-4,"title":null}},
"y":{"field":"y","type":"quantitative","axis":{"orient":"left","values":[-2.45,-2.4,-2.35,-2.3,-2.25,-2.2,-2.15,-2.1,-2.05,-1.95,-1.9,-1.85,-1.8,-1.75,-1.7,-1.65,-1.6,-1.55,-1.45,-1.4,-1.35,-1.3,-1.25,-1.2,-1.15,-1.1,-1.05,-0.95,-0.9,-0.85,-0.8,-0.75,-0.7,-0.65,-0.6,-0.55,-0.45,-0.4,-0.35,-0.3,-0.25,-0.2,-0.15,-0.1,-0.05,0.05,0.1,0.15,0.2,0.25,0.3,0.35,0.4,0.45,0.55,0.6,0.65,0.7,0.75,0.8,0.85,0.9,0.95,1.05,1.1,1.15,1.2,1.25,1.3,1.35,1.4,1.45,1.55,1.6,1.65,1.7,1.75,1.8,1.85,1.9,1.95,2.05,2.1,2.15,2.2,2.25,2.3,2.35,2.4,2.45],"labels":false,"domain":false,"tickSize":-4,"title":null}}
}},
{"data":{"name":"rhoR"},"mark":{"type":"text","align":"left","baseline":"alphabetic","fontSize":16,"font":"Liberation Sans","color":"#000"},
"encoding":{"x":{"field":"x","type":"quantitative","axis":null},"y":{"field":"y","type":"quantitative","axis":null},"text":{"field":"t"}}},
{"data":{"name":"valR"},"mark":{"type":"text","align":"left","baseline":"alphabetic","fontSize":16,"fontWeight":"bold","font":"Liberation Sans","color":"#000"},
"encoding":{"x":{"field":"x","type":"quantitative","axis":null},"y":{"field":"y","type":"quantitative","axis":null},"text":{"field":"t"}}}
],
"resolve":{"axis":{"x":"independent","y":"independent"}}
},
{"width":18,"height":278,"view":{"stroke":null},"data":{"name":"bar"},"mark":{"type":"rect"},
"encoding":{
"y":{"field":"lo","type":"quantitative","scale":{"domain":[0,1],"nice":false,"zero":false},"axis":{"orient":"right","values":[0,0.1,0.2,0.3,0.4,0.5,0.6,0.7,0.8,0.9,1],"format":"~g","tickSize":-6,"labelPadding":8,"title":null}},
"y2":{"field":"hi"},
"color":{"field":"v","type":"quantitative","legend":null,"scale":{"type":"threshold","domain":[0.05,0.1,0.15,0.2,0.25,0.3,0.35,0.4,0.45,0.5,0.55,0.6,0.65,0.7,0.75,0.8,0.85,0.9,0.95],"range":["#e8f0f5","#cde3eb","#b1d5e2","#91c2d5","#84bcd0","#7bb7cc","#74b4c8","#6cafc6","#64abc3","#5ea8bf","#58a5bb","#51a2b5","#4a9fb0","#449bab","#3d98a6","#3694a1","#2f919d","#288d99","#218a94","#1a8690"]}}
}}
]}
]
}
